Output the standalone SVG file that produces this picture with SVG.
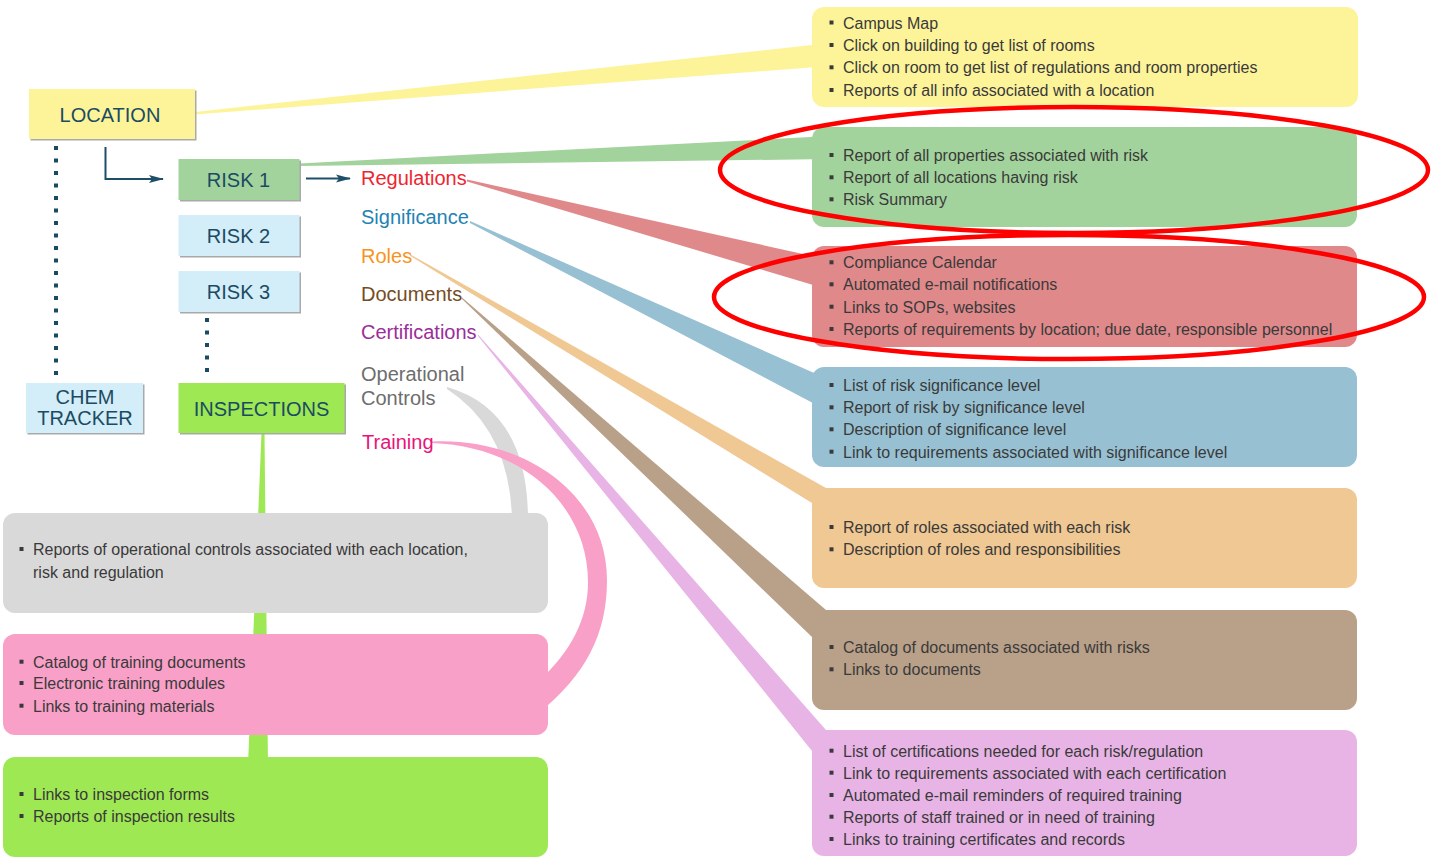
<svg xmlns="http://www.w3.org/2000/svg" width="1437" height="857" viewBox="0 0 1437 857">
<defs>
<style>
.nodeText{font-family:"Liberation Sans",Arial,sans-serif;font-size:20px;fill:#1b4b63;text-anchor:middle}
.lbl{font-family:"Liberation Sans",Arial,sans-serif;font-size:20px}
.item{font-family:"Liberation Sans",Arial,sans-serif;font-size:16px;fill:#3a3a3a}
.bul{fill:#3a3a3a}
.shadow{fill:#a9a9a9}
.dots{stroke:#1b4b63;stroke-width:4;fill:none;stroke-dasharray:4 8.5}
.arr{stroke:#1f4f68;stroke-width:2;fill:none}
.ring{fill:none;stroke:#ff0000;stroke-width:4.5}
</style>
<marker id="ah" markerUnits="userSpaceOnUse" markerWidth="16" markerHeight="10" refX="14" refY="5" orient="auto">
<path d="M0,1 L15,5 L0,9 L3,5 Z" fill="#1f4f68"/>
</marker>
</defs>
<rect width="1437" height="857" fill="#ffffff"/>

<g id="connectors">
<path d="M195,112 L195,114.5 L830,66 L830,43 Z" fill="#fdf49a"/>
<path d="M299,163.5 L299,166 L830,159 L830,136 Z" fill="#a3d39c"/>
<path d="M467,179.5 L467,181.5 L830,290 L830,260 Z" fill="#e0898b"/>
<path d="M470,221 L470,223 L830,412 L830,380 Z" fill="#97c1d3"/>
<path d="M410,254.3 L410,255.8 L812,503 L830,490 L826,488 Z" fill="#f0c893"/>
<path d="M462,297.5 L462,299 L812,637 L830,614 L826,610 Z" fill="#b9a088"/>
<path d="M478,334.5 L478,336 L812,751 L830,734 L826,730 Z" fill="#e8b4e6"/>
<path d="M447,387 Q528,410 528,520 L512,520 Q510,430 447,389 Z" fill="#d9d9d9"/>
<path d="M432,441.5 C525,437 607,495 607,580 C607,635 585,675 540,712 L540,680 C570,652 588,620 588,582 C588,505 522,446 432,443 Z" fill="#f9a0c8"/>
<path d="M261.5,433 L264.5,433 L268,765 L248,765 Z" fill="#9ee853"/>
<path class="arr" d="M105.5,147 L105.5,179 L163,179" marker-end="url(#ah)"/>
<path class="arr" d="M306,178.5 L350,178.5" marker-end="url(#ah)"/>
<path class="dots" d="M56,146 L56,376"/>
<path class="dots" d="M207,318 L207,376"/>
</g>

<g id="node-location">
<rect class="shadow" x="30.5" y="90.5" width="166" height="50"/>
<rect x="29" y="89" width="166" height="50" fill="#fdf49a"/>
<text class="nodeText" x="110" y="121.5">LOCATION</text>
</g>
<g id="node-risk1">
<rect class="shadow" x="180" y="160.5" width="121" height="41"/>
<rect x="178.5" y="159" width="121" height="41" fill="#a3d39c"/>
<text class="nodeText" x="238.5" y="187.3">RISK 1</text>
</g>
<g id="node-risk2">
<rect class="shadow" x="180" y="216.5" width="121" height="41"/>
<rect x="178.5" y="215" width="121" height="41" fill="#d3eef8"/>
<text class="nodeText" x="238.5" y="243.3">RISK 2</text>
</g>
<g id="node-risk3">
<rect class="shadow" x="180" y="272.5" width="121" height="41"/>
<rect x="178.5" y="271" width="121" height="41" fill="#d3eef8"/>
<text class="nodeText" x="238.5" y="299.3">RISK 3</text>
</g>
<g id="node-chem">
<rect class="shadow" x="27.5" y="384.5" width="117" height="50"/>
<rect x="26" y="383" width="117" height="50" fill="#d3eef8"/>
<text class="nodeText" x="85" y="404">CHEM</text>
<text class="nodeText" x="85" y="425">TRACKER</text>
</g>
<g id="node-inspections">
<rect class="shadow" x="180" y="384.5" width="166" height="50"/>
<rect x="178.5" y="383" width="166" height="50" fill="#9ee853"/>
<text class="nodeText" x="261.5" y="415.7">INSPECTIONS</text>
</g>

<g id="labels">
<text class="lbl" x="361" y="185" fill="#ee2530">Regulations</text>
<text class="lbl" x="361" y="224" fill="#1f83b4">Significance</text>
<text class="lbl" x="361" y="262.5" fill="#f7941d">Roles</text>
<text class="lbl" x="361" y="301" fill="#754c24">Documents</text>
<text class="lbl" x="361" y="339" fill="#9a2e9a">Certifications</text>
<text class="lbl" x="361" y="381" fill="#6d6d6d">Operational</text>
<text class="lbl" x="361" y="405" fill="#6d6d6d">Controls</text>
<text class="lbl" x="362" y="449" fill="#e9137a">Training</text>
</g>

<g id="box-location">
<rect x="812" y="7" width="546" height="100" rx="12" fill="#fdf49a"/>
<rect class="bul" x="829.5" y="20.5" width="4" height="4"/><text class="item" x="843" y="28.5">Campus Map</text>
<rect class="bul" x="829.5" y="43" width="4" height="4"/><text class="item" x="843" y="51">Click on building to get list of rooms</text>
<rect class="bul" x="829.5" y="65.3" width="4" height="4"/><text class="item" x="843" y="73.3">Click on room to get list of regulations and room properties</text>
<rect class="bul" x="829.5" y="88" width="4" height="4"/><text class="item" x="843" y="96">Reports of all info associated with a location</text>
</g>
<g id="box-risk">
<rect x="812" y="127" width="545" height="100" rx="12" fill="#a3d39c"/>
<rect class="bul" x="829.5" y="153" width="4" height="4"/><text class="item" x="843" y="161">Report of all properties associated with risk</text>
<rect class="bul" x="829.5" y="175.3" width="4" height="4"/><text class="item" x="843" y="183.3">Report of all locations having risk</text>
<rect class="bul" x="829.5" y="197.3" width="4" height="4"/><text class="item" x="843" y="205.3">Risk Summary</text>
</g>
<g id="box-regulations">
<rect x="812" y="246" width="545" height="101" rx="12" fill="#e0898b"/>
<rect class="bul" x="829.5" y="260.3" width="4" height="4"/><text class="item" x="843" y="268.3">Compliance Calendar</text>
<rect class="bul" x="829.5" y="282.3" width="4" height="4"/><text class="item" x="843" y="290.3">Automated e-mail notifications</text>
<rect class="bul" x="829.5" y="304.7" width="4" height="4"/><text class="item" x="843" y="312.7">Links to SOPs, websites</text>
<rect class="bul" x="829.5" y="327" width="4" height="4"/><text class="item" x="843" y="335">Reports of requirements by location; due date, responsible personnel</text>
</g>
<g id="box-significance">
<rect x="812" y="367" width="545" height="100" rx="12" fill="#97c1d3"/>
<rect class="bul" x="829.5" y="383" width="4" height="4"/><text class="item" x="843" y="391">List of risk significance level</text>
<rect class="bul" x="829.5" y="405.3" width="4" height="4"/><text class="item" x="843" y="413.3">Report of risk by significance level</text>
<rect class="bul" x="829.5" y="427.3" width="4" height="4"/><text class="item" x="843" y="435.3">Description of significance level</text>
<rect class="bul" x="829.5" y="449.7" width="4" height="4"/><text class="item" x="843" y="457.7">Link to requirements associated with significance level</text>
</g>
<g id="box-roles">
<rect x="812" y="488" width="545" height="100" rx="12" fill="#f0c893"/>
<rect class="bul" x="829.5" y="525" width="4" height="4"/><text class="item" x="843" y="533">Report of roles associated with each risk</text>
<rect class="bul" x="829.5" y="547.3" width="4" height="4"/><text class="item" x="843" y="555.3">Description of roles and responsibilities</text>
</g>
<g id="box-documents">
<rect x="812" y="610" width="545" height="100" rx="12" fill="#b9a088"/>
<rect class="bul" x="829.5" y="645" width="4" height="4"/><text class="item" x="843" y="653">Catalog of documents associated with risks</text>
<rect class="bul" x="829.5" y="667.3" width="4" height="4"/><text class="item" x="843" y="675.3">Links to documents</text>
</g>
<g id="box-certifications">
<rect x="812" y="730" width="545" height="126" rx="12" fill="#e8b4e6"/>
<rect class="bul" x="829.5" y="748.7" width="4" height="4"/><text class="item" x="843" y="756.7">List of certifications needed for each risk/regulation</text>
<rect class="bul" x="829.5" y="770.7" width="4" height="4"/><text class="item" x="843" y="778.7">Link to requirements associated with each certification</text>
<rect class="bul" x="829.5" y="793" width="4" height="4"/><text class="item" x="843" y="801">Automated e-mail reminders of required training</text>
<rect class="bul" x="829.5" y="814.7" width="4" height="4"/><text class="item" x="843" y="822.7">Reports of staff trained or in need of training</text>
<rect class="bul" x="829.5" y="837" width="4" height="4"/><text class="item" x="843" y="845">Links to training certificates and records</text>
</g>

<g id="box-operational">
<rect x="3" y="513" width="545" height="100" rx="12" fill="#d9d9d9"/>
<rect class="bul" x="19.5" y="547" width="4" height="4"/><text class="item" x="33" y="555">Reports of operational controls associated with each location,</text>
<text class="item" x="33" y="577.7">risk and regulation</text>
</g>
<g id="box-training">
<rect x="3" y="634" width="545" height="101" rx="12" fill="#f9a0c8"/>
<rect class="bul" x="19.5" y="659.7" width="4" height="4"/><text class="item" x="33" y="667.7">Catalog of training documents</text>
<rect class="bul" x="19.5" y="681" width="4" height="4"/><text class="item" x="33" y="689">Electronic training modules</text>
<rect class="bul" x="19.5" y="703.7" width="4" height="4"/><text class="item" x="33" y="711.7">Links to training materials</text>
</g>
<g id="box-inspections">
<rect x="3" y="757" width="545" height="100" rx="12" fill="#9ee853"/>
<rect class="bul" x="19.5" y="792" width="4" height="4"/><text class="item" x="33" y="800">Links to inspection forms</text>
<rect class="bul" x="19.5" y="814" width="4" height="4"/><text class="item" x="33" y="822">Reports of inspection results</text>
</g>

<g id="highlights">
<ellipse class="ring" cx="1074" cy="170" rx="354" ry="63"/>
<ellipse class="ring" cx="1069" cy="297" rx="355" ry="62"/>
</g>
</svg>
